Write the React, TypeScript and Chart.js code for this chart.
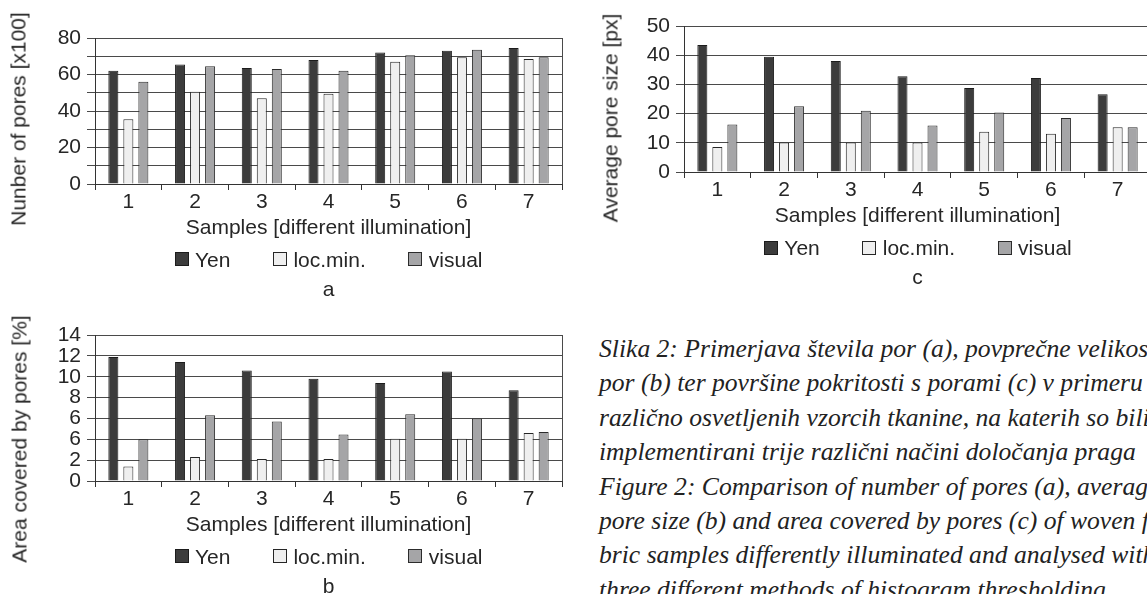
import React, { useEffect, useRef } from 'react';
import { Chart, registerables } from 'chart.js';

Chart.register(...registerables);

// ---------- data ----------
const categories = ['1', '2', '3', '4', '5', '6', '7'];
const seriesNames = ['Yen', 'loc.min.', 'visual'];
const seriesFill = ['#3c3c3c', '#efefef', '#a5a5a7'];
const seriesBorder = ['#1c1c1c', '#262626', '#2c2c2c'];

const poresYen = [62, 65.5, 63.5, 68, 72, 73, 74.5];
const poresLoc = [35.5, 50.5, 47, 49.5, 67, 69.5, 68.5];
const poresVisual = [56, 64.5, 63, 62, 70.5, 73.5, 69.5];

const areaYen = [11.9, 11.4, 10.6, 9.8, 9.4, 10.5, 8.7];
const areaLoc = [1.4, 2.3, 2.1, 2.1, 4.05, 4.05, 4.6];
const areaVisual = [4.0, 6.3, 5.7, 4.45, 6.4, 6.0, 4.7];

const sizeYen = [43.5, 39.5, 38, 32.8, 28.8, 32.2, 26.6];
const sizeLoc = [8.6, 10.1, 10.1, 10.1, 13.8, 13.1, 15.3];
const sizeVisual = [16.3, 22.5, 21, 15.9, 20.4, 18.5, 15.3];

const poresTicks = ['0', '', '20', '', '40', '', '60', '', '80'];
const areaTicks = ['0', '2', '6', '6', '8', '10', '12', '14'];
const sizeTicks = ['0', '10', '20', '30', '40', '50'];

const xTitle = 'Samples [different illumination]';

const captionLines = [
  'Slika 2: Primerjava števila por (a), povprečne velikosti',
  'por (b) ter površine pokritosti s porami (c) v primeru',
  'različno osvetljenih vzorcih tkanine, na katerih so bili',
  'implementirani trije različni načini določanja praga',
  'Figure 2: Comparison of number of pores (a), average',
  'pore size (b) and area covered by pores (c) of woven fa-',
  'bric samples differently illuminated and analysed with',
  'three different methods of histogram thresholding',
];

// ---------- styling ----------
const FONT = '"Liberation Sans", Arial, Helvetica, sans-serif';
const TEXT = '#262626';
const GRID = '#4a4a4a';
const AXIS = '#333333';
const CW = 575;
const CH = 310;
const PLOT_L = 95;
const PLOT_T = 38;
const PLOT_R = 562;
const PLOT_B = 184;

const frame = {
  id: 'frame',
  afterDraw(chart: any) {
    const { ctx, chartArea: a } = chart;
    ctx.save();
    ctx.strokeStyle = GRID;
    ctx.lineWidth = 1;
    const x = Math.round(a.right) + 0.5;
    ctx.beginPath();
    ctx.moveTo(x, a.top);
    ctx.lineTo(x, a.bottom);
    ctx.stroke();
    ctx.restore();
  },
};

type PanelProps = {
  left: number;
  top: number;
  values: number[][];
  yMax: number;
  yStep: number;
  yTicks: string[];
  yTitle: string;
  yTitleX: number;
  yTitleY: number;
  sub: string;
};

function Panel(p: PanelProps) {
  const ref = useRef<HTMLCanvasElement | null>(null);

  useEffect(() => {
    const font = { family: FONT, size: 21 };
    const chart = new Chart(ref.current as HTMLCanvasElement, {
      type: 'bar',
      data: {
        labels: categories,
        datasets: seriesNames.map((name, i) => ({
          label: name,
          data: p.values[i],
          backgroundColor: seriesFill[i],
          borderColor: seriesBorder[i],
          borderWidth: 1,
          borderSkipped: 'start',
          categoryPercentage: 0.675,
          barPercentage: 0.667,
        })),
      },
      options: {
        animation: false,
        responsive: false,
        maintainAspectRatio: false,
        events: [],
        layout: {
          padding: { left: 0, top: PLOT_T, right: CW - PLOT_R, bottom: 7.4 },
        },
        plugins: {
          legend: { display: false },
          tooltip: { enabled: false },
          title: {
            display: true,
            text: p.sub,
            position: 'bottom',
            fullSize: false,
            color: TEXT,
            font: { family: FONT, size: 21, weight: 'normal' },
            padding: { top: 36.4, bottom: 0 },
          },
        },
        scales: {
          x: {
            offset: true,
            grid: {
              display: true,
              drawOnChartArea: false,
              drawTicks: true,
              tickLength: 6,
              color: AXIS,
              offset: true,
            },
            border: { display: true, color: AXIS, width: 1 },
            ticks: { padding: 0, color: TEXT, font, maxRotation: 0, autoSkip: false },
            title: {
              display: true,
              text: xTitle,
              color: TEXT,
              font,
              padding: { top: 0, bottom: 0 },
            },
            afterFit: (s: any) => {
              s.height = 57;
            },
          },
          y: {
            min: 0,
            max: p.yMax,
            ticks: {
              stepSize: p.yStep,
              padding: 6,
              color: TEXT,
              font,
              autoSkip: false,
              callback: (_v: any, i: number) => p.yTicks[i] ?? '',
            },
            grid: { color: GRID, lineWidth: 1, drawTicks: true, tickLength: 8 },
            border: { display: true, color: AXIS, width: 1 },
            afterFit: (s: any) => {
              s.width = PLOT_L;
            },
          },
        },
      },
      plugins: [frame],
    } as any);
    return () => chart.destroy();
  }, []);

  const plotW = PLOT_R - PLOT_L;
  const legendY = PLOT_B + 75.3;

  return (
    <>
      <div style={{ position: 'absolute', left: p.left, top: p.top, width: CW, height: CH }}>
        <canvas ref={ref} width={CW} height={CH} style={{ display: 'block', width: CW, height: CH }} />
        <div
          style={{
            position: 'absolute',
            left: PLOT_L,
            width: plotW,
            top: legendY - 12.5,
            height: 25,
            display: 'flex',
            justifyContent: 'center',
            alignItems: 'center',
            fontFamily: FONT,
            fontSize: 21,
            color: TEXT,
            whiteSpace: 'nowrap',
          }}
        >
          {seriesNames.map((name, i) => (
            <div
              key={name}
              style={{ display: 'flex', alignItems: 'center', marginLeft: i === 0 ? 0 : 42.5 }}
            >
              <span
                style={{
                  display: 'inline-block',
                  width: 14,
                  height: 14,
                  boxSizing: 'border-box',
                  background: seriesFill[i],
                  border: `1px solid ${seriesBorder[i]}`,
                  marginRight: 6.5,
                }}
              />
              <span style={{ lineHeight: '25px' }}>{name}</span>
            </div>
          ))}
        </div>
      </div>
      <div
        style={{
          position: 'absolute',
          left: p.yTitleX,
          top: p.yTitleY,
          transform: 'translate(-50%, -50%) rotate(-90deg)',
          fontFamily: FONT,
          fontSize: 21,
          lineHeight: '25px',
          color: TEXT,
          whiteSpace: 'nowrap',
        }}
      >
        {p.yTitle}
      </div>
    </>
  );
}

export default function App() {
  return (
    <div
      style={{
        position: 'fixed',
        left: 0,
        top: 0,
        width: 1147,
        height: 594,
        overflow: 'hidden',
        background: '#ffffff',
      }}
    >
      <Panel
        left={0}
        top={0}
        values={[poresYen, poresLoc, poresVisual]}
        yMax={80}
        yStep={10}
        yTicks={poresTicks}
        yTitle="Nunber of pores [x100]"
        yTitleX={17.5}
        yTitleY={118.5}
        sub="a"
      />
      <Panel
        left={0}
        top={297}
        values={[areaYen, areaLoc, areaVisual]}
        yMax={14}
        yStep={2}
        yTicks={areaTicks}
        yTitle="Area covered by pores [%]"
        yTitleX={19}
        yTitleY={439}
        sub="b"
      />
      <Panel
        left={589.3}
        top={-11.6}
        values={[sizeYen, sizeLoc, sizeVisual]}
        yMax={50}
        yStep={10}
        yTicks={sizeTicks}
        yTitle="Average pore size [px]"
        yTitleX={609.5}
        yTitleY={117.5}
        sub="c"
      />
      <div
        style={{
          position: 'absolute',
          left: 599,
          top: 332,
          fontFamily: '"Liberation Serif", "Times New Roman", serif',
          fontStyle: 'italic',
          fontSize: 25.6,
          lineHeight: '34.4px',
          color: '#222222',
          whiteSpace: 'nowrap',
        }}
      >
        {captionLines.map((line, i) => (
          <div key={i}>{line}</div>
        ))}
      </div>
    </div>
  );
}
